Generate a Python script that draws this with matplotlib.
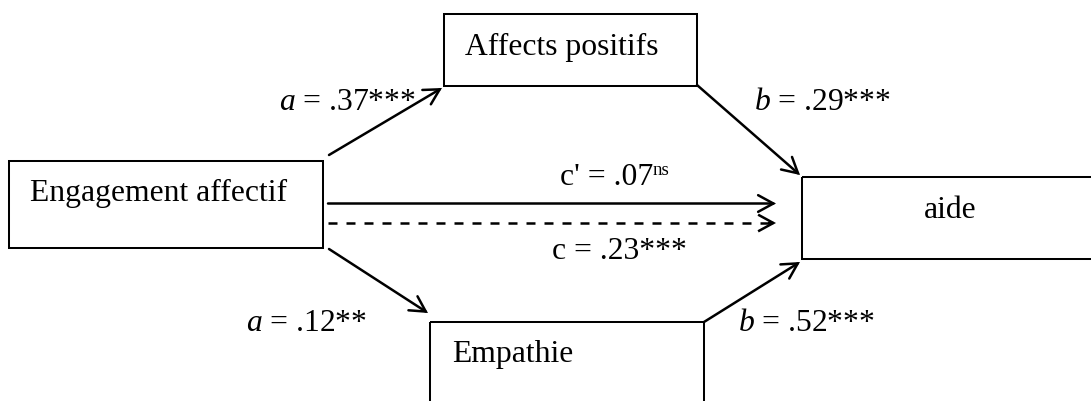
import matplotlib
matplotlib.use("Agg")
import matplotlib.pyplot as plt
from matplotlib.patches import Rectangle, FancyArrowPatch, ArrowStyle

plt.rcParams['font.family'] = ['Liberation Serif', 'DejaVu Serif']
plt.rcParams['mathtext.fontset'] = 'custom'
plt.rcParams['mathtext.rm'] = 'Liberation Serif'
plt.rcParams['mathtext.it'] = 'Liberation Serif:italic'

# ---- content ----
node_names = ["Engagement affectif", "Affects positifs", "Empathie", "aide"]
path_letters = ["a", "b", "a", "b", "c'", "c"]
path_values = [".37", ".29", ".12", ".52", ".07", ".23"]
path_sig = ["***", "***", "**", "***", "ns", "***"]

# ---- layout (pixel coordinates, y down) ----
W, H = 1091, 401
box_rects = [(9, 161, 314, 87), (444, 14, 253, 72), (430, 322, 274, 100), (802, 177, 300, 82)]
node_text_pos = [(30, 201, 'left'), (465, 55, 'left'), (452, 362, 'left'), (950, 218, 'center')]
arrow_paths = [((329, 155), (442, 88)), ((697, 85), (800, 175)),
               ((329, 249), (428, 313)), ((704, 322), (800, 262)),
               ((328, 203.5), (776, 203.5)), ((328, 223), (776, 223))]
arrow_dashed = [False, False, False, False, False, True]
label_pos = [(279, 110), (754, 110), (246, 331), (738, 331), (560, 185), (552, 259)]

FS = 22.75
fig = plt.figure(figsize=(W / 100, H / 100), dpi=100)
ax = fig.add_axes([0, 0, 1, 1])
ax.set_xlim(0, W)
ax.set_ylim(H, 0)
ax.axis('off')

for (x, y, w, h), name, (tx, ty, ha) in zip(box_rects, node_names, node_text_pos):
    ax.add_patch(Rectangle((x, y), w, h, fill=False, edgecolor='black', lw=1.45, clip_on=True))
    ax.text(tx, ty, name, fontsize=FS, ha=ha, va='baseline', color='black')

head = ArrowStyle('->', head_length=11, head_width=6)
for (p0, p1), dashed in zip(arrow_paths, arrow_dashed):
    if dashed:
        ax.plot([p0[0], p1[0]], [p0[1], p1[1]], color='black', lw=1.8,
                linestyle=(0, (3.6, 3.6)), solid_capstyle='butt')
        start = (p1[0] - 8, p1[1])
        ax.add_patch(FancyArrowPatch(start, p1, arrowstyle=head, mutation_scale=1,
                                     lw=1.8, color='black', shrinkA=0, shrinkB=0,
                                     capstyle='butt', joinstyle='miter'))
    else:
        ax.add_patch(FancyArrowPatch(p0, p1, arrowstyle=head, mutation_scale=1,
                                     lw=1.8, color='black', shrinkA=0, shrinkB=0,
                                     joinstyle='miter'))

for letter, val, sig, (lx, ly) in zip(path_letters, path_values, path_sig, label_pos):
    if letter in ("a", "b"):
        ax.text(lx, ly, f"${letter}$ = {val}{sig}", fontsize=FS, ha='left', va='baseline')
    elif sig == "ns":
        ax.text(lx, ly, f"{letter} = {val}", fontsize=FS, ha='left', va='baseline')
        ax.text(653, ly - 10, sig, fontsize=13.5, ha='left', va='baseline')
    else:
        ax.text(lx, ly, f"{letter} = {val}{sig}", fontsize=FS, ha='left', va='baseline')

fig.savefig("out.png", dpi=100, facecolor='white')
